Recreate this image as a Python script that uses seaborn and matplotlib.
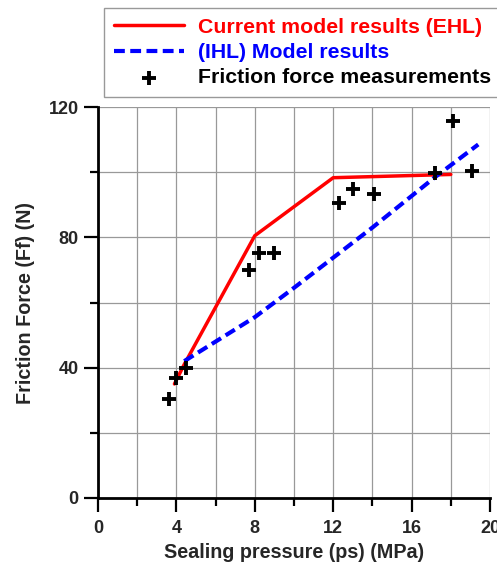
import numpy as np
import pandas as pd
import matplotlib
matplotlib.use("Agg")
import matplotlib.pyplot as plt
from matplotlib.ticker import MultipleLocator
import seaborn as sns

# data
ehl_p = [3.9, 4.4, 8.0, 12.0, 18.0]
ehl_f = [35.0, 41.0, 80.5, 98.3, 99.3]

ihl_p = [4.4, 8.0, 10.0, 14.0, 17.2, 19.4]
ihl_f = [42.0, 55.5, 64.5, 83.0, 98.5, 108.5]

meas_p = [3.6, 4.0, 4.5, 7.7, 8.2, 9.0, 12.3, 13.0, 14.1, 17.2, 18.1, 19.1]
meas_f = [30.4, 36.8, 39.9, 70.0, 75.1, 75.1, 90.4, 94.8, 93.2, 99.7, 115.8, 100.5]

labels = ["Current model results (EHL)", "(IHL) Model results", "Friction force measurements"]

sns.set_style("white")
plt.rcParams['font.family'] = ['Liberation Sans', 'DejaVu Sans']
plt.rcParams['font.weight'] = 'bold'

fig = plt.figure(figsize=(4.97, 5.66), dpi=100)
ax = fig.add_axes([98/497, 1-498/566, 392/497, 391/566])

sns.lineplot(x=ehl_p, y=ehl_f, sort=False, color="#ff0000", lw=2.5, ax=ax, label=labels[0])
sns.lineplot(x=ihl_p, y=ihl_f, sort=False, color="#0000ff", lw=3, ax=ax, label=labels[1],
             dashes=False, linestyle=(0, (2.6, 1.3)))
sns.scatterplot(x=meas_p, y=meas_f, marker="+", s=90, linewidth=2.8, color="black", ax=ax,
                label=labels[2], zorder=5)

ax.set_xlim(0, 20)
ax.set_ylim(0, 120)
ax.xaxis.set_major_locator(MultipleLocator(4))
ax.xaxis.set_minor_locator(MultipleLocator(2))
ax.yaxis.set_major_locator(MultipleLocator(40))
ax.yaxis.set_minor_locator(MultipleLocator(20))
ax.grid(True, which="both", color="#999999", lw=0.9)
ax.set_axisbelow(True)

for s in ["top", "right"]:
    ax.spines[s].set_visible(False)
for s in ["left", "bottom"]:
    ax.spines[s].set_color("black")
    ax.spines[s].set_linewidth(2)

ax.tick_params(which="major", direction="out", length=10, width=1.6, color="black",
               labelsize=13, left=True, bottom=True)
ax.tick_params(which="minor", direction="out", length=6, width=1.6, color="black",
               left=True, bottom=True)
ax.tick_params(axis="x", which="major", pad=6)
ax.tick_params(axis="y", which="major", pad=4)
for t in ax.get_xticklabels() + ax.get_yticklabels():
    t.set_fontweight("bold")

ax.set_xlabel("Sealing pressure (ps) (MPa)", fontsize=14.2, fontweight="bold", labelpad=4)
ax.set_ylabel("Friction Force (Ff) (N)", fontsize=14.2, fontweight="bold", labelpad=10)

leg = ax.legend(loc="upper left", bbox_to_anchor=(104/497, 1-8/566), bbox_transform=fig.transFigure,
                fontsize=15.3, frameon=True, fancybox=False, handlelength=3.3, handletextpad=0.65,
                borderpad=0.45, labelspacing=0.3, borderaxespad=0)
leg.get_frame().set_edgecolor("#808080")
leg.get_frame().set_linewidth(1)
for txt, c in zip(leg.get_texts(), ["#ff0000", "#0000ff", "black"]):
    txt.set_color(c)
    txt.set_fontweight("bold")

fig.savefig("out.png", dpi=100)
